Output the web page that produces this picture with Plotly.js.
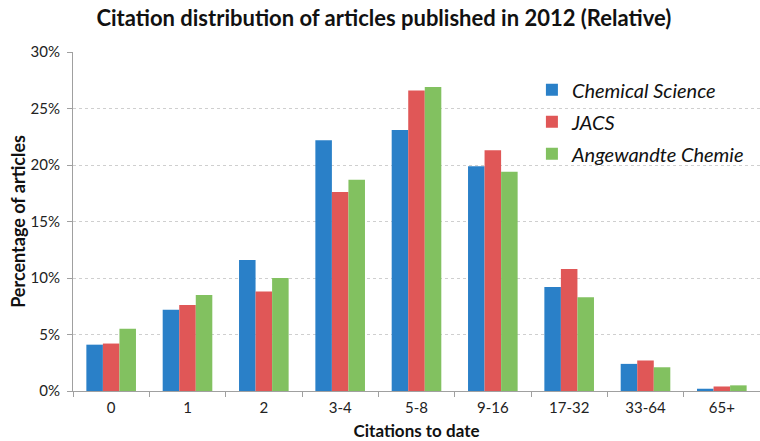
<!DOCTYPE html>
<html>
<head>
<meta charset="utf-8">
<script src="https://cdn.plot.ly/plotly-3.0.1.min.js"></script>
<style>html,body{margin:0;padding:0;background:#fff;}#chart{width:760px;height:441px;}</style>
</head>
<body>
<div id="chart"></div>
<script>
var categories = ["0", "1", "2", "3-4", "5-8", "9-16", "17-32", "33-64", "65+"];
var chemicalScience = [4.1, 7.2, 11.6, 22.2, 23.1, 19.9, 9.2, 2.4, 0.2];
var jacs = [4.2, 7.6, 8.8, 17.6, 26.6, 21.3, 10.8, 2.7, 0.4];
var angewandte = [5.5, 8.5, 10.0, 18.7, 26.9, 19.4, 8.3, 2.1, 0.5];
var seriesNames = ["Chemical Science", "JACS", "Angewandte Chemie"];
var tickVals = [0, 5, 10, 15, 20, 25, 30];
var tickText = ["0%", "5%", "10%", "15%", "20%", "25%", "30%"];

var colors = ["#2a80c8", "#e05757", "#82c160"];
var data = [chemicalScience, jacs, angewandte].map(function (vals, i) {
  return {
    type: "bar",
    name: seriesNames[i],
    x: categories,
    y: vals,
    legendgroup: "g" + i,
    marker: { color: colors[i], line: { width: 0 } },
    hoverinfo: "x+y+name"
  };
});

var layout = {
  width: 760,
  height: 441,
  margin: { l: 73, r: 0, t: 52, b: 50 },
  paper_bgcolor: "#ffffff",
  plot_bgcolor: "#ffffff",
  font: { family: "Lato, 'Open Sans', sans-serif", color: "#222" },
  title: {
    text: "<b>Citation distribution of articles published in 2012 (Relative)</b>",
    font: { size: 22, family: "Lato, sans-serif", color: "#111" },
    x: 0.505, xanchor: "center", y: 0.975, yanchor: "top"
  },
  barmode: "group",
  bargap: 0.35,
  bargroupgap: 0,
  xaxis: {
    type: "category",
    showline: true, linecolor: "#a0a0a0", linewidth: 1,
    ticks: "outside", tickson: "boundaries", ticklen: 5, tickcolor: "#a0a0a0",
    tickfont: { size: 15, color: "#222" },
    ticklabelstandoff: 3,
    showgrid: false,
    title: { text: "<b>Citations to date</b>", font: { size: 17, color: "#111" }, standoff: 10 }
  },
  yaxis: {
    range: [0, 30],
    tickvals: tickVals,
    ticktext: tickText,
    showline: true, linecolor: "#a0a0a0", linewidth: 1,
    ticks: "outside", ticklen: 5, tickcolor: "#a0a0a0",
    tickfont: { size: 15, color: "#222" },
    ticklabelstandoff: 4,
    showgrid: true, gridcolor: "#cfcfcf", griddash: "dot", gridwidth: 1,
    zeroline: false
  },
  annotations: [{
    text: "<b>Percentage of articles</b>",
    textangle: -90,
    xref: "paper", yref: "paper",
    x: -0.081, y: 0.5,
    xanchor: "center", yanchor: "middle",
    showarrow: false,
    font: { size: 18, color: "#111", family: "Lato, sans-serif" }
  }],
  showlegend: true,
  legend: {
    x: 0.668, y: 0.946, xanchor: "left", yanchor: "top",
    font: { size: 20, color: "#111", family: "Lato, sans-serif", style: "italic" },
    bgcolor: "rgba(255,255,255,0)",
    tracegroupgap: 3,
    itemwidth: 30
  }
};

Plotly.newPlot("chart", data, layout, { displayModeBar: false, staticPlot: true });
</script>
</body>
</html>
